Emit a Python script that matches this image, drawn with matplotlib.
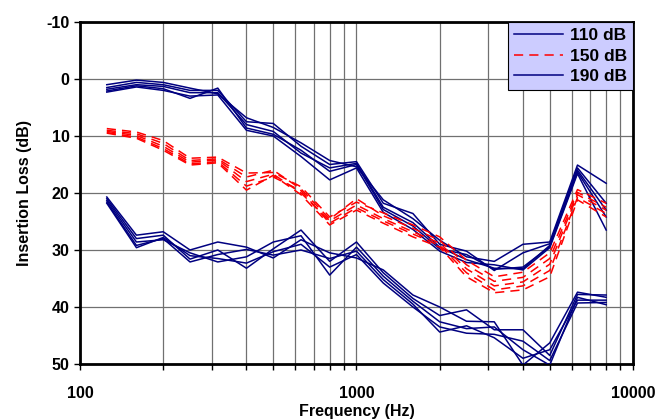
import numpy as np
import matplotlib
matplotlib.use('Agg')
import matplotlib.pyplot as plt
from matplotlib.ticker import FixedLocator, NullFormatter

plt.rcParams['font.family'] = ['Liberation Sans', 'DejaVu Sans']
plt.rcParams['font.weight'] = 'bold'
plt.rcParams['axes.unicode_minus'] = False

# third-octave band centre frequencies (Hz)
freqs = [125, 160, 200, 250, 315, 400, 500, 630, 800, 1000,
         1250, 1600, 2000, 2500, 3150, 4000, 5000, 6300, 8000]

# 110 dB runs
loss_110 = [
    [1.0, 0.2, 0.6, 1.6, 2.6, 6.8, 8.5, 11.2, 14.3, 15.4, 21.2, 24.5, 28.3, 31.2, 32.0, 29.0, 28.6, 15.1, 18.3],
    [1.5, 0.6, 1.0, 2.0, 2.0, 7.5, 7.8, 11.8, 15.0, 14.5, 21.8, 23.6, 29.0, 30.2, 33.6, 30.5, 28.9, 15.6, 21.8],
    [1.8, 1.0, 1.3, 2.4, 2.4, 8.0, 9.2, 13.0, 15.6, 14.8, 22.5, 25.2, 29.5, 31.7, 33.2, 33.3, 29.2, 16.0, 23.0],
    [2.1, 1.2, 1.7, 3.4, 1.6, 8.6, 9.7, 12.5, 16.2, 15.0, 22.9, 25.8, 29.8, 30.8, 33.4, 33.0, 29.4, 16.3, 24.2],
    [2.3, 1.4, 2.0, 3.0, 2.8, 9.0, 10.0, 13.6, 17.7, 15.6, 23.4, 26.4, 30.2, 32.2, 32.6, 33.5, 29.6, 16.6, 26.5],
]

# 150 dB runs
loss_150 = [
    [8.7, 9.3, 10.8, 13.9, 13.7, 16.5, 16.4, 18.9, 24.2, 21.6, 23.5, 25.6, 27.7, 31.8, 34.7, 33.9, 30.5, 19.4, 21.8],
    [9.0, 9.6, 11.3, 14.3, 14.0, 17.2, 16.0, 19.3, 24.6, 21.0, 24.0, 26.2, 28.3, 32.6, 35.5, 34.8, 31.5, 19.9, 22.5],
    [9.2, 9.9, 11.8, 14.6, 14.2, 18.0, 16.7, 20.0, 24.9, 22.1, 24.5, 26.8, 28.8, 33.3, 36.3, 35.6, 32.5, 20.3, 23.0],
    [9.4, 10.2, 12.2, 14.9, 14.5, 18.8, 17.2, 19.6, 25.3, 22.6, 24.9, 27.2, 29.2, 34.0, 37.0, 36.3, 33.6, 20.8, 23.6],
    [9.5, 10.4, 12.5, 15.1, 14.7, 19.5, 16.9, 20.3, 25.6, 23.0, 25.3, 27.7, 29.5, 34.7, 37.5, 37.0, 34.7, 21.2, 24.2],
]

# 190 dB runs
loss_190 = [
    [20.7, 27.4, 26.8, 30.0, 28.6, 29.5, 31.4, 28.2, 30.5, 31.4, 33.5, 37.9, 40.0, 42.5, 42.6, 50.2, 46.3, 37.4, 38.3],
    [21.0, 28.0, 27.4, 31.6, 30.0, 33.2, 29.8, 26.5, 32.0, 28.6, 34.0, 38.5, 41.5, 40.5, 44.0, 44.0, 48.5, 37.8, 37.9],
    [21.3, 28.6, 28.2, 30.5, 32.1, 31.2, 28.6, 27.5, 34.4, 29.5, 34.6, 39.0, 42.6, 43.8, 43.5, 47.5, 50.2, 38.3, 39.6],
    [21.6, 29.2, 28.0, 32.1, 30.8, 29.9, 30.9, 30.0, 31.5, 30.2, 35.2, 39.5, 44.4, 43.3, 45.4, 49.0, 47.5, 38.8, 38.8],
    [21.8, 29.6, 27.8, 31.0, 31.5, 32.3, 30.3, 29.0, 33.0, 30.8, 35.8, 40.0, 43.5, 44.6, 44.8, 46.0, 49.4, 39.3, 39.2],
]

navy = '#000080'
red = '#FF0000'

fig = plt.figure(figsize=(6.59, 4.19), dpi=100)
ax = fig.add_axes([0.1214, 0.1313, 0.8391, 0.8162])

for i, run in enumerate(loss_110):
    ax.plot(freqs, run, color=navy, lw=1.1, label='110 dB' if i == 0 else None, zorder=3)
for i, run in enumerate(loss_150):
    ax.plot(freqs, run, color=red, lw=1.1, dashes=(6, 4), label='150 dB' if i == 0 else None, zorder=3)
for i, run in enumerate(loss_190):
    ax.plot(freqs, run, color=navy, lw=1.1, label='190 dB' if i == 0 else None, zorder=3)

ax.set_xscale('log')
ax.set_xlim(100, 10000)
ax.set_ylim(50, -10)
ax.set_yticks(range(-10, 51, 10))
ax.xaxis.set_major_locator(FixedLocator([100, 1000, 10000]))
minor = [m * d for d in (100, 1000) for m in range(2, 10)]
ax.xaxis.set_minor_locator(FixedLocator(minor))
ax.xaxis.set_minor_formatter(NullFormatter())
ax.set_xticklabels(['100', '1000', '10000'])

ax.grid(True, which='both', color='#707070', lw=0.9, zorder=0)
ax.set_axisbelow(True)

for s in ax.spines.values():
    s.set_linewidth(2)
    s.set_color('black')

ax.tick_params(axis='both', which='both', direction='out', length=4, width=1, labelsize=11.5)
ax.tick_params(axis='x', pad=12)
for lab in ax.get_xticklabels() + ax.get_yticklabels():
    lab.set_fontweight('bold')

ax.set_xlabel('Frequency (Hz)', fontsize=11.5, fontweight='bold', labelpad=2)
ax.set_ylabel('Insertion Loss (dB)', fontsize=11.5, fontweight='bold', labelpad=10)

leg = ax.legend(loc='upper right', borderaxespad=0, fontsize=12.5, frameon=True,
                fancybox=False, handlelength=2.8, handletextpad=0.4,
                labelspacing=0.3, borderpad=0.35)
leg.get_frame().set_facecolor('#CCCCFF')
leg.get_frame().set_edgecolor('black')
leg.get_frame().set_linewidth(0.8)
leg.get_frame().set_alpha(1)
for t in leg.get_texts():
    t.set_fontweight('bold')

fig.savefig('out.png', dpi=100)
